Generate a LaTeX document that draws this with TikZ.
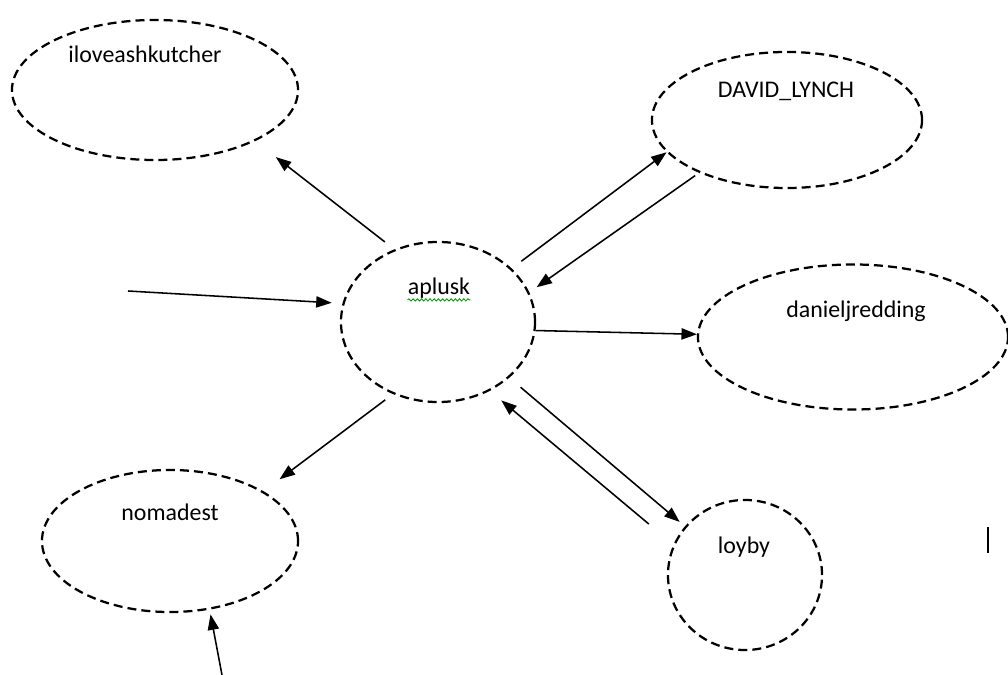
\documentclass[tikz,border=0pt]{standalone}
\usepackage{fontspec}
\setmainfont{Carlito}
\usetikzlibrary{arrows.meta,shapes.geometric,decorations.pathmorphing}
\begin{document}
\begin{tikzpicture}[x=0.025cm, y=-0.025cm,
    user/.style={ellipse, draw, line width=1.6pt, dash pattern=on 6.4pt off 3.6pt, inner sep=0pt},
    uname/.style={font=\fontsize{17}{20}\selectfont, inner sep=0pt, anchor=base},
    link/.style={-{Triangle[length=11pt,width=8pt]}, line width=1.1pt},
    spellcheck/.style={green!60!black, line width=0.6pt, decorate,
      decoration={snake, amplitude=0.8pt, segment length=3pt}}]
    \useasboundingbox (0,0) rectangle (1008,675);
    % --- users (dashed ellipses) ---
    \node[user, minimum width=7.15cm, minimum height=3.5cm] (ilove) at (155,90) {};
    \node[user, minimum width=6.75cm, minimum height=3.4cm] (lynch) at (787,120) {};
    \node[user, minimum width=4.85cm, minimum height=4.0cm] (aplusk) at (438,322) {};
    \node[user, minimum width=7.75cm, minimum height=3.625cm] (redding) at (853,337) {};
    \node[user, minimum width=6.4cm, minimum height=3.55cm] (nomadest) at (170,541) {};
    \node[user, minimum width=3.85cm, minimum height=3.75cm] (loyby) at (745,575) {};
    % --- names ---
    \node[uname] (ilove-name) at (145,63) {iloveashkutcher};
    \node[uname] (lynch-name) at (786,98) {DAVID\_LYNCH};
    \node[uname] (aplusk-name) at (439,295) {aplusk};
    \node[uname] (redding-name) at (856,318) {danieljredding};
    \node[uname] (nomadest-name) at (170,521) {nomadest};
    \node[uname] (loyby-name) at (744,553) {loyby};
    \draw[spellcheck] ([yshift=-3.5pt]aplusk-name.base west) -- ([yshift=-3.5pt]aplusk-name.base east);
    % --- free ends ---
    \coordinate (in-left) at (128,291);
    \coordinate (in-bottom) at (222,675);
    % --- links ---
    \draw[link, shorten <=0.3cm, shorten >=0.65cm] (aplusk.121) -- (ilove.-27);
    \draw[link, shorten <=0.3cm] (aplusk.36) -- (lynch.195);
    \draw[link, shorten <=0.12cm, shorten >=0.22cm] (lynch.211) -- (aplusk.18);
    \draw[link, shorten >=0.27cm] (in-left) -- (aplusk.169);
    \draw[link] (aplusk.-5) -- (redding.179);
    \draw[link, shorten <=0.24cm, shorten >=0.5cm] (aplusk.238) -- (nomadest.28);
    \draw[link, shorten <=0.37cm, shorten >=0.17cm] (aplusk.-38) -- (loyby.141);
    \draw[link, shorten <=0.8cm, shorten >=0.37cm] (loyby.157) -- (aplusk.-53);
    \draw[link, shorten >=0.12cm] (in-bottom) -- (nomadest.-60);
    % --- text cursor ---
    \draw[line width=1.8pt] (988,527) -- (988,553);
\end{tikzpicture}
\end{document}
